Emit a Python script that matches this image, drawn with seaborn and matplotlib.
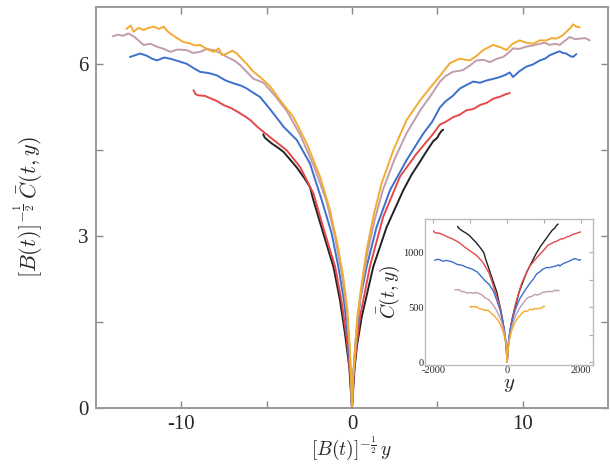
import numpy as np
import pandas as pd
import matplotlib
matplotlib.use("Agg")
import matplotlib.pyplot as plt
import seaborn as sns

# scaled profiles: (x, y) per curve
orange_x = [-13.2, -12.95, -12.78, -12.5, -12.2, -12.0, -11.6, -11.3, -11.03, -10.8, -10.64, -10.3,
            -9.86, -9.5, -9.2, -8.89, -8.5, -8.1, -7.8, -7.6, -7.33, -7.0, -6.74, -6.4, -6.16, -5.8,
            -5.38, -4.8, -4.2, -3.43, -2.65, -1.87, -1.29, -0.86, -0.51, -0.27, -0.12, -0.05, 0.0,
            0.05, 0.18, 0.31, 0.57, 0.86, 1.25, 1.73, 2.42, 3.2, 3.98, 4.6, 5.15, 5.73, 6.3, 6.9,
            7.3, 7.68, 8.26, 8.7, 9.04, 9.4, 9.82, 10.2, 10.6, 11.0, 11.38, 11.7, 11.96, 12.3,
            12.55, 12.8, 12.94, 13.15, 13.33]
orange_y = [6.62, 6.68, 6.57, 6.64, 6.6, 6.63, 6.66, 6.62, 6.66, 6.58, 6.54, 6.47,
            6.39, 6.37, 6.33, 6.34, 6.27, 6.22, 6.28, 6.16, 6.19, 6.24, 6.19, 6.08, 6.01, 5.88,
            5.78, 5.62, 5.37, 5.08, 4.62, 4.04, 3.46, 2.87, 2.29, 1.71, 1.01, 0.5, 0.0,
            0.5, 1.01, 1.59, 2.18, 2.76, 3.34, 3.92, 4.5, 5.03, 5.37, 5.6, 5.8, 6.02, 6.1, 6.07,
            6.15, 6.25, 6.34, 6.3, 6.25, 6.36, 6.42, 6.38, 6.36, 6.42, 6.42, 6.46, 6.45, 6.5,
            6.57, 6.64, 6.7, 6.66, 6.65]

mauve_x = [-14.0, -13.7, -13.4, -13.1, -12.78, -12.5, -12.2, -11.8, -11.42, -11.0, -10.64, -10.2,
           -9.67, -9.3, -8.89, -8.5, -8.1, -7.7, -7.33, -6.9, -6.55, -6.1, -5.77, -5.18, -4.5,
           -3.8, -3.0, -2.2, -1.5, -1.0, -0.6, -0.3, -0.12, -0.05, 0.0,
           0.05, 0.18, 0.33, 0.6, 0.9, 1.3, 1.8, 2.5, 3.2, 4.0, 4.6, 5.15, 5.5, 5.9, 6.5, 6.9,
           7.29, 7.7, 8.07, 8.5, 8.85, 9.15, 9.43, 9.8, 10.2, 10.6, 10.99, 11.3, 11.57, 11.9,
           12.16, 12.5, 12.75, 13.05, 13.33, 13.65, 13.92]
mauve_y = [6.49, 6.52, 6.5, 6.54, 6.49, 6.42, 6.34, 6.36, 6.31, 6.27, 6.22, 6.26,
           6.25, 6.2, 6.22, 6.27, 6.25, 6.2, 6.13, 6.07, 5.99, 5.85, 5.75, 5.68, 5.45,
           5.18, 4.75, 4.2, 3.62, 3.0, 2.35, 1.68, 0.95, 0.45, 0.0,
           0.45, 0.95, 1.55, 2.15, 2.7, 3.25, 3.8, 4.35, 4.8, 5.2, 5.45, 5.7, 5.8, 5.87, 5.9, 5.98,
           6.07, 6.08, 6.04, 6.1, 6.13, 6.2, 6.28, 6.27, 6.31, 6.33, 6.36, 6.38, 6.34, 6.36,
           6.34, 6.42, 6.48, 6.44, 6.45, 6.46, 6.42]

blue_x = [-13.0, -12.7, -12.4, -12.0, -11.7, -11.42, -11.0, -10.64, -10.2, -9.67, -9.3, -8.89,
          -8.4, -7.92, -7.4, -6.94, -6.5, -6.16, -5.75, -5.38, -4.8, -4.0, -3.23, -2.46, -1.77,
          -1.19, -0.8, -0.47, -0.22, -0.08, 0.0,
          0.08, 0.22, 0.47, 0.86, 1.44, 2.22, 3.2, 4.17, 4.7, 5.15, 5.5, 5.9, 6.32, 6.7, 7.1,
          7.5, 7.88, 8.3, 8.66, 9.0, 9.24, 9.43, 9.8, 10.2, 10.6, 11.0, 11.3, 11.58, 11.9,
          12.16, 12.35, 12.55, 12.75, 12.94, 13.14]
blue_y = [6.13, 6.16, 6.19, 6.15, 6.1, 6.07, 6.12, 6.1, 6.06, 6.01, 5.94, 5.87,
          5.85, 5.81, 5.72, 5.67, 5.63, 5.58, 5.5, 5.43, 5.22, 4.91, 4.68, 4.27, 3.63,
          3.05, 2.47, 1.88, 1.2, 0.6, 0.0,
          0.6, 1.2, 1.88, 2.47, 3.16, 3.8, 4.33, 4.79, 5.0, 5.25, 5.36, 5.45, 5.58, 5.64, 5.7,
          5.68, 5.72, 5.75, 5.78, 5.82, 5.86, 5.78, 5.88, 5.96, 6.0, 6.07, 6.1, 6.16, 6.2,
          6.23, 6.2, 6.19, 6.15, 6.13, 6.18]

red_x = [-9.28, -9.15, -9.0, -8.6, -8.3, -7.9, -7.52, -7.1, -6.74, -6.3, -5.96, -5.5, -4.8,
         -3.82, -3.04, -2.26, -1.58, -0.99, -0.6, -0.3, -0.1, 0.0,
         0.1, 0.25, 0.47, 1.05, 1.83, 2.81, 3.78, 4.76, 5.15, 5.5, 5.93, 6.3, 6.71, 7.1, 7.49,
         7.9, 8.26, 8.7, 9.0, 9.24]
red_y = [5.55, 5.48, 5.46, 5.45, 5.41, 5.36, 5.29, 5.24, 5.18, 5.1, 5.03, 4.9, 4.73,
         4.5, 4.21, 3.75, 3.05, 2.47, 1.85, 1.2, 0.6, 0.0,
         0.6, 1.05, 1.59, 2.47, 3.34, 4.04, 4.44, 4.79, 4.95, 5.0, 5.08, 5.12, 5.2, 5.22, 5.29,
         5.33, 5.4, 5.44, 5.48, 5.5]

black_x = [-5.2, -5.1, -4.7, -4.35, -4.0, -3.6, -3.23, -2.8, -2.46, -2.26, -1.68, -1.09, -0.7,
           -0.41, -0.16, 0.0,
           0.16, 0.3, 0.57, 1.25, 2.03, 3.0, 3.5, 3.98, 4.4, 4.76, 5.0, 5.1, 5.25, 5.34]
black_y = [4.78, 4.72, 4.62, 4.55, 4.47, 4.33, 4.2, 4.02, 3.86, 3.63, 3.05, 2.47, 1.88,
           1.3, 0.72, 0.0,
           0.72, 1.1, 1.59, 2.47, 3.16, 3.8, 4.08, 4.3, 4.5, 4.66, 4.72, 4.78, 4.84, 4.86]

# sqrt(B(t)) for each curve, from the unscaled inset
names = ["black", "red", "blue", "mauve", "orange"]
sqrt_B = [258, 215, 151, 101, 76]
colors = ["#222222", "#e5484a", "#3d6fcc", "#bf9dab", "#f2ab33"]

curves = {
    "black": (black_x, black_y),
    "red": (red_x, red_y),
    "blue": (blue_x, blue_y),
    "mauve": (mauve_x, mauve_y),
    "orange": (orange_x, orange_y),
}

sns.set_theme(style="white")
plt.rcParams["font.family"] = ["Liberation Serif", "DejaVu Serif"]
plt.rcParams["mathtext.fontset"] = "cm"

fig = plt.figure(figsize=(6.1, 4.65), dpi=100)
ax = fig.add_axes([0.157, 0.1226, 0.84, 0.862])
ins = fig.add_axes([0.697, 0.215, 0.275, 0.314])

frames = []
for name, s in zip(names, sqrt_B):
    x, y = curves[name]
    frames.append(pd.DataFrame({"curve": name, "x": x, "y": y,
                                "y_raw": np.array(x) * s, "c_raw": np.array(y) * s}))
df = pd.concat(frames, ignore_index=True)

for name, col in zip(names, colors):
    d = df[df["curve"] == name]
    sns.lineplot(data=d, x="x", y="y", ax=ax, color=col, lw=1.4, sort=False,
                 estimator=None)
    sns.lineplot(data=d, x="y_raw", y="c_raw", ax=ins, color=col, lw=1.0, sort=False,
                 estimator=None)

ax.set_xlim(-15, 15)
ax.set_ylim(0, 7)
ax.set_xticks([-10, 0, 10])
ax.set_xticklabels(["-10", "0", "10"])
ax.set_xticks([-5, 5], minor=True)
ax.set_yticks([0, 3, 6])
ax.set_yticks([1.5, 4.5], minor=True)
ax.tick_params(which="both", direction="in", length=5, width=1, color="#888888",
               top=True, right=True, bottom=True, left=True, labelsize=15, pad=5)
for sp in ax.spines.values():
    sp.set_color("#999999")
    sp.set_linewidth(1.4)
ax.set_xlabel(r"$[B(t)]^{-\frac{1}{2}}\,y$", fontsize=14, labelpad=0)
ax.set_ylabel(r"$[B(t)]^{-\frac{1}{2}}\,\bar{C}(t,y)$", fontsize=16, labelpad=24)

ins.set_xlim(-2220, 2320)
ins.set_ylim(-25, 1300)
ins.set_xticks([-2000, 0, 2000])
ins.set_xticklabels(["-2000", "0", "2000"])
ins.set_xticks([-1000, 1000], minor=True)
ins.set_yticks([0, 500, 1000])
ins.set_yticks([250, 750], minor=True)
ins.tick_params(which="both", direction="in", length=3, width=0.8, color="#aaaaaa",
                top=True, right=True, labelsize=7.5, pad=1)
for sp in ins.spines.values():
    sp.set_color("#bbbbbb")
    sp.set_linewidth(1.0)
ins.set_xlabel(r"$y$", fontsize=15, labelpad=0)
ins.set_ylabel(r"$\bar{C}(t,y)$", fontsize=14, labelpad=1)

fig.savefig("out.png", dpi=100)
